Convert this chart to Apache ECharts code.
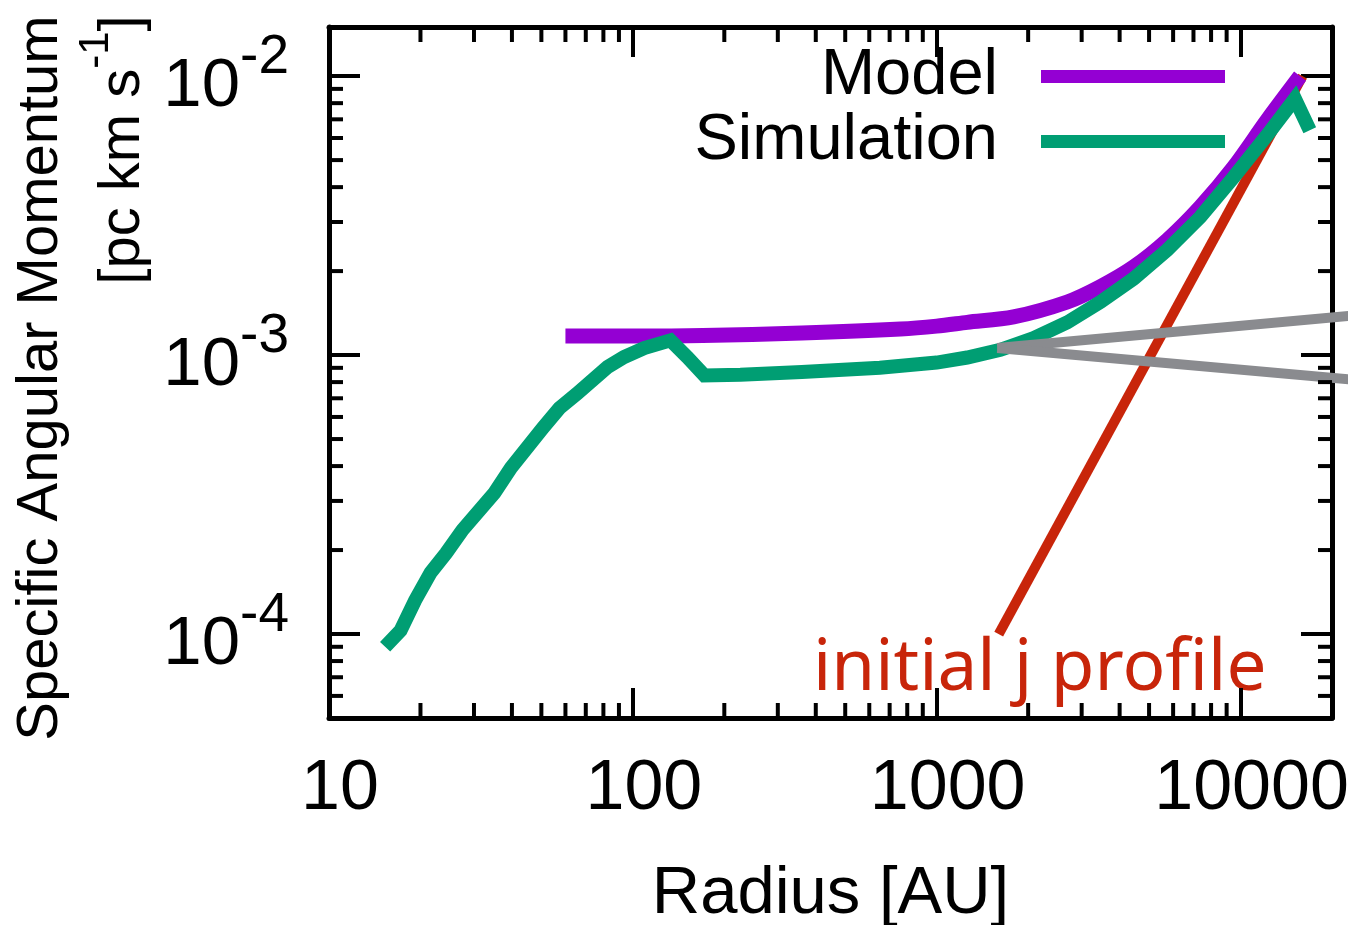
<!DOCTYPE html>
<html>
<head>
<meta charset="utf-8">
<script src="https://cdn.jsdelivr.net/npm/echarts@6/dist/echarts.min.js"></script>
<style>
  html, body { margin: 0; padding: 0; background: #ffffff; }
  #chart { width: 1348px; height: 925px; }
</style>
</head>
<body>
<div id="chart"></div>
<script>
// Radius in AU, specific angular momentum j in pc km s^-1

// Analytic model curve
const modelRadius = [60, 100, 170, 360, 760, 1000, 1260, 1790, 2690, 3460, 4450, 5730, 7380, 9500, 12230, 15700];
const modelJ = [1.17e-3, 1.17e-3, 1.175e-3, 1.2e-3, 1.24e-3, 1.27e-3, 1.31e-3, 1.37e-3, 1.55e-3, 1.76e-3, 2.07e-3, 2.58e-3, 3.40e-3, 4.72e-3, 6.95e-3, 1.0e-2];

// Simulation profile
const simRadius = [15.3, 17.2, 19.2, 21.6, 24.3, 27.5, 35, 39.7, 50.5, 57.3, 65.8, 82.6, 93.6, 109, 133, 151, 172, 226, 360, 650, 1000, 1260, 1620, 2085, 2690, 3460, 4450, 5730, 7380, 9500, 12230, 15100, 16900];
const simJ = [9.0e-5, 1.03e-4, 1.32e-4, 1.66e-4, 1.95e-4, 2.36e-4, 3.2e-4, 3.94e-4, 5.47e-4, 6.45e-4, 7.31e-4, 9.06e-4, 9.84e-4, 1.06e-3, 1.13e-3, 9.84e-4, 8.45e-4, 8.5e-4, 8.7e-4, 9.0e-4, 9.4e-4, 9.8e-4, 1.045e-3, 1.15e-3, 1.31e-3, 1.55e-3, 1.88e-3, 2.38e-3, 3.13e-3, 4.35e-3, 6.14e-3, 8.3e-3, 6.4e-3];

// Initial j profile (j proportional to r^2)
const initialRadius = [1600, 16000];
const initialJ = [1.0e-4, 1.0e-2];

// Callout wedge pointing to the next panel
const calloutStartRadius = 1583;
const calloutStartJ = 1.06e-3;
const calloutEndRadius = [23000, 23000];
const calloutEndJ = [1.384e-3, 8.18e-4];

// Axis ticks
const xTickValues = [10, 100, 1000, 10000];
const xTickLabels = ['10', '100', '1000', '10000'];
const yTickValues = [1e-4, 1e-3, 1e-2];
const yTickExponents = ['-4', '-3', '-2'];
const xMinorTicks = [20, 30, 40, 50, 60, 70, 80, 90,
                     200, 300, 400, 500, 600, 700, 800, 900,
                     2000, 3000, 4000, 5000, 6000, 7000, 8000, 9000];
const yMinorTicks = [6e-5, 7e-5, 8e-5, 9e-5,
                     2e-4, 3e-4, 4e-4, 5e-4, 6e-4, 7e-4, 8e-4, 9e-4,
                     2e-3, 3e-3, 4e-3, 5e-3, 6e-3, 7e-3, 8e-3, 9e-3];

const X_MIN = 10, X_MAX = 20000, Y_MIN = 5e-5, Y_MAX = 1.5e-2;
const FONT = '"Liberation Sans", Arial, Helvetica, sans-serif';

const zip = (xs, ys) => xs.map((x, i) => [x, ys[i]]);
const tickIndex = (values, v) => values.findIndex(t => Math.abs(Math.log10(t) - Math.log10(v)) < 1e-6);

const chart = echarts.init(document.getElementById('chart'), null, { renderer: 'canvas' });

const majorTick = len => ({ show: true, inside: true, length: len, lineStyle: { color: '#000', width: 4 } });
const frameLine = { show: true, onZero: false, lineStyle: { color: '#000', width: 5 } };

function xMinorRender(params, api) {
  const cs = params.coordSys;
  const x = api.coord([api.value(0), api.value(1)])[0];
  const style = { stroke: '#000', lineWidth: 4 };
  const bottom = cs.y + cs.height;
  return {
    type: 'group',
    children: [
      { type: 'line', shape: { x1: x, y1: bottom, x2: x, y2: bottom - 15 }, style },
      { type: 'line', shape: { x1: x, y1: cs.y, x2: x, y2: cs.y + 15 }, style }
    ]
  };
}

function yMinorRender(params, api) {
  const cs = params.coordSys;
  const y = api.coord([api.value(0), api.value(1)])[1];
  const style = { stroke: '#000', lineWidth: 4 };
  const right = cs.x + cs.width;
  return {
    type: 'group',
    children: [
      { type: 'line', shape: { x1: cs.x, y1: y, x2: cs.x + 14, y2: y }, style },
      { type: 'line', shape: { x1: right, y1: y, x2: right - 14, y2: y }, style }
    ]
  };
}

// Each callout item is one straight segment that may run past the plot frame
function calloutRender(params, api) {
  const p1 = api.coord([api.value(0), api.value(1)]);
  const p2 = api.coord([api.value(2), api.value(3)]);
  return {
    type: 'line',
    shape: { x1: p1[0], y1: p1[1], x2: p2[0], y2: p2[1] },
    style: { stroke: '#8a8b8f', lineWidth: 10, lineCap: 'butt' }
  };
}

const option = {
  animation: false,
  backgroundColor: '#ffffff',
  grid: { left: 329, right: 16, top: 27, bottom: 207, outerBoundsMode: 'none' },
  legend: {
    data: ['Model', 'Simulation'],
    orient: 'vertical',
    align: 'right',
    right: 123,
    top: 44,
    padding: 0,
    itemGap: 0,
    itemWidth: 184,
    itemHeight: 13,
    icon: 'rect',
    selectedMode: false,
    textStyle: { fontFamily: FONT, fontSize: 65, color: '#000', lineHeight: 53, padding: [12, 38, 0, 0] }
  },
  xAxis: [
    {
      type: 'log', logBase: 10, min: X_MIN, max: X_MAX, position: 'bottom',
      name: 'Radius [AU]', nameLocation: 'middle', nameGap: 143,
      nameTextStyle: { fontFamily: FONT, fontSize: 67, color: '#000' },
      axisLine: frameLine, axisTick: majorTick(30), splitLine: { show: false },
      axisLabel: {
        margin: 37, fontFamily: FONT, fontSize: 70, color: '#000', padding: [0, 0, 0, 22],
        formatter: v => { const i = tickIndex(xTickValues, v); return i < 0 ? '' : xTickLabels[i]; }
      }
    },
    {
      type: 'log', logBase: 10, min: X_MIN, max: X_MAX, position: 'top',
      axisLine: frameLine, axisTick: majorTick(30), axisLabel: { show: false }, splitLine: { show: false }
    }
  ],
  yAxis: [
    {
      type: 'log', logBase: 10, min: Y_MIN, max: Y_MAX, position: 'left',
      name: '{t1|Specific Angular Momentum}\n{t2|[pc km s}{sup|-1}{t2|]}',
      nameLocation: 'middle', nameRotate: 90, nameGap: 170,
      nameTextStyle: {
        fontFamily: FONT, fontSize: 58, color: '#000', padding: [0, 11, 0, 0],
        rich: {
          t1: { fontFamily: FONT, fontSize: 58, lineHeight: 82, align: 'right', verticalAlign: 'bottom', color: '#000' },
          t2: { fontFamily: FONT, fontSize: 58, lineHeight: 82, align: 'right', verticalAlign: 'bottom', color: '#000' },
          sup: { fontFamily: FONT, fontSize: 42, align: 'right', verticalAlign: 'bottom', padding: [0, 0, 35, 0], color: '#000' }
        }
      },
      axisLine: frameLine, axisTick: majorTick(31), splitLine: { show: false },
      axisLabel: {
        margin: 40, color: '#000',
        formatter: v => { const i = tickIndex(yTickValues, v); return i < 0 ? '' : '{b|10}{s|' + yTickExponents[i] + '}'; },
        rich: {
          b: { fontFamily: FONT, fontSize: 69, verticalAlign: 'bottom', color: '#000' },
          s: { fontFamily: FONT, fontSize: 55, verticalAlign: 'bottom', padding: [0, 0, 36, 0], color: '#000' }
        }
      }
    },
    {
      type: 'log', logBase: 10, min: Y_MIN, max: Y_MAX, position: 'right',
      axisLine: frameLine, axisTick: majorTick(31), axisLabel: { show: false }, splitLine: { show: false }
    }
  ],
  series: [
    {
      name: 'initial j profile', type: 'line', data: zip(initialRadius, initialJ),
      showSymbol: false, symbol: 'none', silent: true, color: '#c8250a',
      lineStyle: { color: '#c8250a', width: 10, cap: 'butt' }
    },
    {
      name: 'Model', type: 'line', data: zip(modelRadius, modelJ),
      showSymbol: false, symbol: 'none', color: '#9400d3', smooth: 0.3,
      lineStyle: { color: '#9400d3', width: 15, cap: 'butt', join: 'miter' }
    },
    {
      name: 'Simulation', type: 'line', data: zip(simRadius, simJ),
      showSymbol: false, symbol: 'none', color: '#009e73',
      lineStyle: { color: '#009e73', width: 14, cap: 'butt', join: 'miter' }
    },
    {
      name: 'callout', type: 'custom', silent: true, z: 5,
      data: calloutEndRadius.map((r, i) => [calloutStartRadius, calloutStartJ, r, calloutEndJ[i]]),
      renderItem: calloutRender
    },
    {
      name: 'x minor ticks', type: 'custom', silent: true,
      data: xMinorTicks.map(v => [v, Y_MIN]), renderItem: xMinorRender, z: 10
    },
    {
      name: 'y minor ticks', type: 'custom', silent: true,
      data: yMinorTicks.map(v => [X_MIN, v]), renderItem: yMinorRender, z: 10
    }
  ],
  graphic: [
    {
      type: 'text', left: 813, top: 634, silent: true,
      style: { text: 'initial j profile', fill: '#c8250a', font: '71px "Noto Sans", sans-serif' }
    }
  ]
};

chart.setOption(option);
</script>
</body>
</html>
